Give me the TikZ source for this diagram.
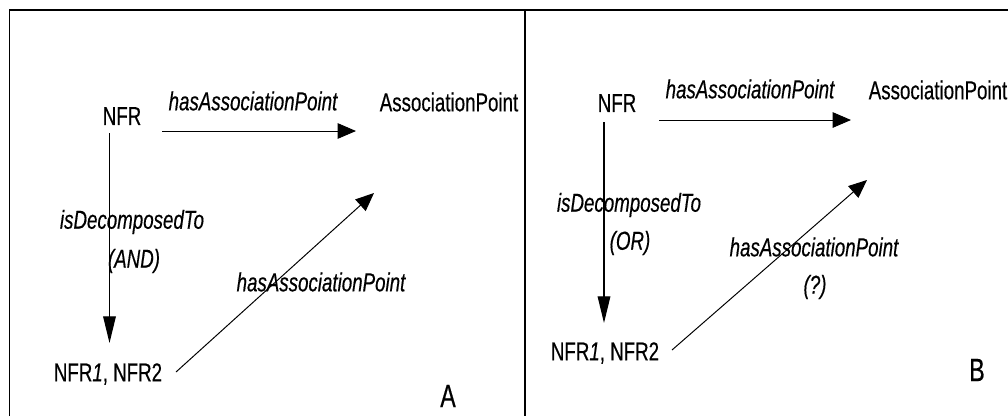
\documentclass[tikz,border=0pt]{standalone}
\usepackage{fontspec}
\setmainfont{Liberation Sans}[FakeStretch=0.72, FakeBold=0.4]
\usetikzlibrary{arrows.meta}

\begin{document}
\begin{tikzpicture}[x=0.025cm, y=-0.025cm,
  lbl/.style={font=\fontsize{18.5}{21}\selectfont, inner sep=0pt},
  rel/.style={font=\fontsize{18.5}{21}\selectfont\itshape, inner sep=0pt},
  tag/.style={font=\fontsize{23}{26}\selectfont, inner sep=0pt},
  link/.style={-{Triangle[length=13pt,width=11pt]}, line width=0.7pt},
  downlink/.style={-{Triangle[length=19pt,width=9pt]}, line width=0.9pt}]
  % 1 unit = 1 px of the 1008 x 416 page, y runs downwards
  \useasboundingbox (0,0) rectangle (1008,416);
  % frame: top edge, left edge, divider
  \draw[line width=1.1pt] (9.6,416) -- (9.6,10) -- (1008,10);
  \draw[line width=1.3pt] (525,10) -- (525,416);
  % panel A: AND decomposition
  \node[lbl] (nfrA) at (122,116) {NFR};
  \node[lbl] (apA) at (449,102) {AssociationPoint};
  \node[lbl] (subA) at (108,374) {NFR\textit{1}, NFR2};
  \node[rel] (hasA) at (253,101) {hasAssociationPoint};
  \node[rel] (decA) at (132,222) {isDecomposedTo};
  \node[rel] (andA) at (134,261) {(AND)};
  \node[rel] (subhasA) at (321,282) {hasAssociationPoint};
  \node[tag] (tagA) at (448,396) {A};
  \coordinate (hA1) at (162,131);
  \coordinate (hA2) at (356,131);
  \coordinate (vA1) at (109.5,133);
  \coordinate (vA2) at (109.5,343);
  \coordinate (dA1) at (176,372);
  \coordinate (dA2) at (374,193);
  \draw[link] (hA1) -- (hA2);
  \draw[downlink] (vA1) -- (vA2);
  \draw[link] (dA1) -- (dA2);
  % panel B: OR decomposition
  \node[lbl] (nfrB) at (617,103) {NFR};
  \node[lbl] (apB) at (938,90) {AssociationPoint};
  \node[lbl] (subB) at (605,353) {NFR\textit{1}, NFR2};
  \node[rel] (hasB) at (750,89) {hasAssociationPoint};
  \node[rel] (decB) at (629,205) {isDecomposedTo};
  \node[rel] (orB) at (630,243) {(OR)};
  \node[rel] (subhasB) at (814,247) {hasAssociationPoint};
  \node[rel] (askB) at (815,287) {(?)};
  \node[tag] (tagB) at (977,370) {B};
  \coordinate (hB1) at (659,120);
  \coordinate (hB2) at (851,120);
  \coordinate (vB1) at (604,122);
  \coordinate (vB2) at (604,323);
  \coordinate (dB1) at (672,350);
  \coordinate (dB2) at (867,180);
  \draw[link] (hB1) -- (hB2);
  \draw[downlink] (vB1) -- (vB2);
  \draw[link] (dB1) -- (dB2);
\end{tikzpicture}
\end{document}
